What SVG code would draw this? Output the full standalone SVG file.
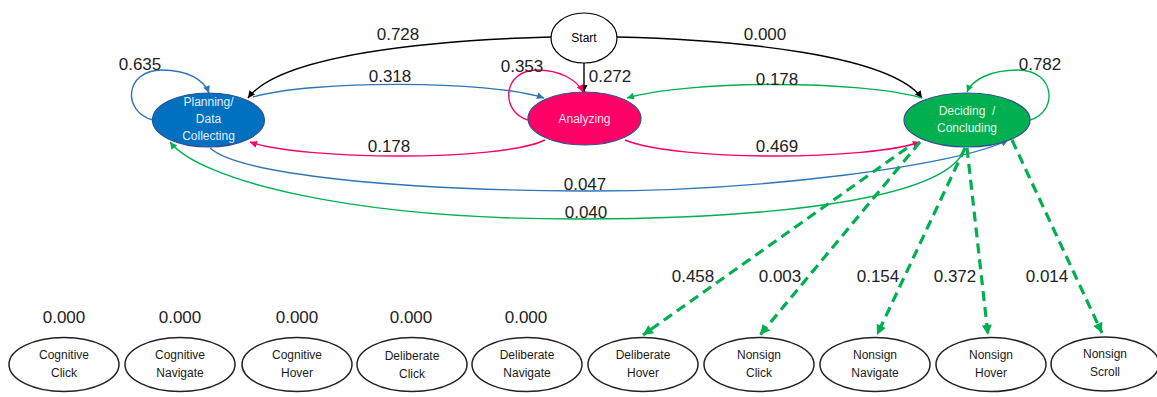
<svg xmlns="http://www.w3.org/2000/svg" width="1157" height="397" viewBox="0 0 1157 397">
<style>
.lbl{font-family:"Liberation Sans",Arial,sans-serif;font-size:17px;fill:#222;text-anchor:middle}
.nt{font-family:"Liberation Sans",Arial,sans-serif;font-size:12px;text-anchor:middle}
.small{fill:#fff;stroke:#222;stroke-width:1.5}
.main{stroke:#2F528F;stroke-width:1.2}
.e{fill:none;stroke-width:1.4}
.dash{fill:none;stroke:#00B050;stroke-width:3.2;stroke-dasharray:10 6}
</style>
<defs>
<marker id="ak" viewBox="0 0 10 10" refX="10" refY="5" markerWidth="8" markerHeight="7" markerUnits="userSpaceOnUse" orient="auto"><path d="M0,0 L10,5 L0,10 z" fill="#000"/></marker>
<marker id="ab" viewBox="0 0 10 10" refX="10" refY="5" markerWidth="8" markerHeight="7" markerUnits="userSpaceOnUse" orient="auto"><path d="M0,0 L10,5 L0,10 z" fill="#2E75B6"/></marker>
<marker id="ap" viewBox="0 0 10 10" refX="10" refY="5" markerWidth="8" markerHeight="7" markerUnits="userSpaceOnUse" orient="auto"><path d="M0,0 L10,5 L0,10 z" fill="#FF0066"/></marker>
<marker id="ag" viewBox="0 0 10 10" refX="10" refY="5" markerWidth="8" markerHeight="7" markerUnits="userSpaceOnUse" orient="auto"><path d="M0,0 L10,5 L0,10 z" fill="#00B050"/></marker>
<marker id="ad" viewBox="0 0 10 10" refX="10" refY="5" markerWidth="11" markerHeight="10" markerUnits="userSpaceOnUse" orient="auto"><path d="M0,0 L10,5 L0,10 z" fill="#00B050"/></marker>
</defs>

<g id="connectors">
<path class="e" stroke="#000" d="M551,37 C430,40 280,55 248,98" marker-end="url(#ak)"/>
<path class="e" stroke="#000" d="M617,37 C740,40 890,55 922,98" marker-end="url(#ak)"/>
<path class="e" stroke="#000" d="M584,63 L584,92" marker-end="url(#ak)"/>
<path class="e" stroke="#2E75B6" d="M153,120 C122,112 124,70 162,70 C188,70 204,80 209,93" marker-end="url(#ab)"/>
<path class="e" stroke="#2E75B6" d="M253,97 C310,80 490,80 544,98" marker-end="url(#ab)"/>
<path class="e" stroke="#FF0066" d="M528,120 C500,112 502,70 537,70 C560,70 577,80 583,92" marker-end="url(#ap)"/>
<path class="e" stroke="#00B050" d="M922,98 C860,80 690,80 627,98" marker-end="url(#ag)"/>
<path class="e" stroke="#FF0066" d="M545,140 C500,162 300,160 250,142" marker-end="url(#ap)"/>
<path class="e" stroke="#FF0066" d="M625,140 C680,162 870,160 920,142" marker-end="url(#ap)"/>
<path class="e" stroke="#2E75B6" d="M210,148 C240,175 400,190 580,191 C760,192 960,165 1008,140" marker-end="url(#ab)"/>
<path class="e" stroke="#00B050" d="M965,148 C950,195 800,218 585,219 C350,220 200,180 170,142" marker-end="url(#ag)"/>
<path class="e" stroke="#00B050" d="M1030,120 C1058,112 1056,70 1018,70 C990,70 972,80 967,92" marker-end="url(#ag)"/>
<path class="dash" d="M907,148 L643,335" marker-end="url(#ad)"/>
<path class="dash" d="M920,142 L760,335" marker-end="url(#ad)"/>
<path class="dash" d="M965,148 L877,335" marker-end="url(#ad)"/>
<path class="dash" d="M967,148 L988,335" marker-end="url(#ad)"/>
<path class="dash" d="M1012,140 L1102,333" marker-end="url(#ad)"/>
</g>

<g id="edge-labels">
<text class="lbl" x="398" y="40">0.728</text>
<text class="lbl" x="765" y="40">0.000</text>
<text class="lbl" x="140" y="70">0.635</text>
<text class="lbl" x="390" y="82">0.318</text>
<text class="lbl" x="522" y="72">0.353</text>
<text class="lbl" x="610" y="82">0.272</text>
<text class="lbl" x="777" y="85">0.178</text>
<text class="lbl" x="1040" y="70">0.782</text>
<text class="lbl" x="389" y="152">0.178</text>
<text class="lbl" x="777" y="152">0.469</text>
<text class="lbl" x="585" y="190">0.047</text>
<text class="lbl" x="586" y="218">0.040</text>
<text class="lbl" x="693" y="282">0.458</text>
<text class="lbl" x="780" y="282">0.003</text>
<text class="lbl" x="878" y="282">0.154</text>
<text class="lbl" x="955" y="282">0.372</text>
<text class="lbl" x="1047" y="282">0.014</text>
<text class="lbl" x="64" y="323">0.000</text>
<text class="lbl" x="180" y="323">0.000</text>
<text class="lbl" x="297" y="323">0.000</text>
<text class="lbl" x="411" y="323">0.000</text>
<text class="lbl" x="526" y="323">0.000</text>
</g>

<g id="start">
<ellipse cx="584" cy="38" rx="33" ry="25" fill="#fff" stroke="#000" stroke-width="1.2"/>
<text class="nt" x="584" y="42" fill="#000">Start</text>
</g>
<g id="planning">
<ellipse class="main" cx="208.5" cy="120" rx="56" ry="27" fill="#0070C0"/>
<text class="nt" fill="#e6eef8"><tspan x="208.5" y="106">Planning/</tspan><tspan x="208.5" y="123">Data</tspan><tspan x="208.5" y="140">Collecting</tspan></text>
</g>
<g id="analyzing">
<ellipse class="main" cx="584.5" cy="118.5" rx="56.5" ry="26.5" fill="#FF0066"/>
<text class="nt" x="584.5" y="123" fill="#ffe0ec">Analyzing</text>
</g>
<g id="deciding">
<ellipse class="main" cx="967" cy="120" rx="63" ry="27" fill="#00B050"/>
<text class="nt" fill="#e6f4e6"><tspan x="967" y="115">Deciding&#160;&#160;/</tspan><tspan x="967" y="132">Concluding</tspan></text>
</g>

<g id="cognitive-click"><ellipse class="small" cx="64" cy="364.5" rx="55" ry="27"/><text class="nt" fill="#1a1a1a"><tspan x="64" y="359">Cognitive</tspan><tspan x="64" y="377">Click</tspan></text></g>
<g id="cognitive-navigate"><ellipse class="small" cx="180" cy="364.5" rx="55" ry="27"/><text class="nt" fill="#1a1a1a"><tspan x="180" y="359">Cognitive</tspan><tspan x="180" y="377">Navigate</tspan></text></g>
<g id="cognitive-hover"><ellipse class="small" cx="297" cy="364.5" rx="55" ry="27"/><text class="nt" fill="#1a1a1a"><tspan x="297" y="359">Cognitive</tspan><tspan x="297" y="377">Hover</tspan></text></g>
<g id="deliberate-click"><ellipse class="small" cx="412" cy="364.5" rx="55" ry="27"/><text class="nt" fill="#1a1a1a"><tspan x="412" y="360">Deliberate</tspan><tspan x="412" y="378">Click</tspan></text></g>
<g id="deliberate-navigate"><ellipse class="small" cx="527" cy="364.5" rx="55" ry="27"/><text class="nt" fill="#1a1a1a"><tspan x="527" y="359">Deliberate</tspan><tspan x="527" y="377">Navigate</tspan></text></g>
<g id="deliberate-hover"><ellipse class="small" cx="643" cy="364.5" rx="55" ry="27"/><text class="nt" fill="#1a1a1a"><tspan x="643" y="359">Deliberate</tspan><tspan x="643" y="377">Hover</tspan></text></g>
<g id="nonsign-click"><ellipse class="small" cx="759" cy="364.5" rx="55" ry="27"/><text class="nt" fill="#1a1a1a"><tspan x="759" y="359">Nonsign</tspan><tspan x="759" y="377">Click</tspan></text></g>
<g id="nonsign-navigate"><ellipse class="small" cx="875" cy="364.5" rx="55" ry="27"/><text class="nt" fill="#1a1a1a"><tspan x="875" y="359">Nonsign</tspan><tspan x="875" y="377">Navigate</tspan></text></g>
<g id="nonsign-hover"><ellipse class="small" cx="991" cy="364.5" rx="55" ry="27"/><text class="nt" fill="#1a1a1a"><tspan x="991" y="359">Nonsign</tspan><tspan x="991" y="377">Hover</tspan></text></g>
<g id="nonsign-scroll"><ellipse class="small" cx="1105" cy="364" rx="54" ry="27"/><text class="nt" fill="#1a1a1a"><tspan x="1105" y="358">Nonsign</tspan><tspan x="1105" y="376">Scroll</tspan></text></g>
</svg>
